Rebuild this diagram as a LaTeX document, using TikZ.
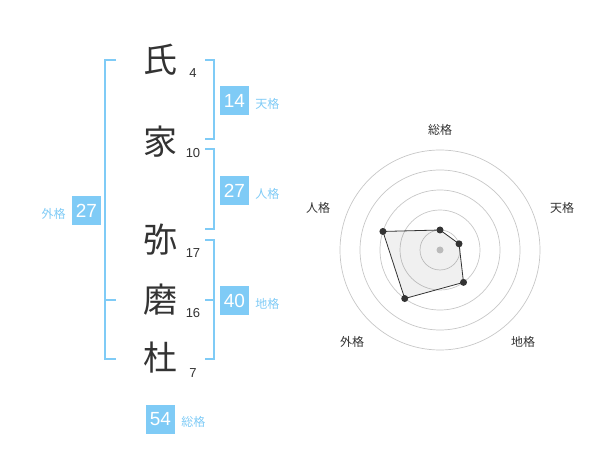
\documentclass[tikz,border=0pt]{standalone}
\usepackage{fontspec}
\setmainfont{Liberation Sans}
\newfontfamily\cjk{Noto Sans CJK JP}
\usepackage{tikz}
\usetikzlibrary{calc,positioning}
\definecolor{kakublue}{HTML}{7FCBF6}
\definecolor{inkgray}{HTML}{333333}

\begin{document}
\begin{tikzpicture}[x=1pt,y=-1pt,
  kanji/.style={font=\cjk\fontsize{34}{34}\selectfont,text=inkgray,inner sep=0pt},
  strokes/.style={font=\fontsize{13}{13}\selectfont,text=inkgray,inner sep=0pt},
  score/.style={fill=kakublue,text=white,font=\fontsize{19}{19}\selectfont,minimum size=29pt,inner sep=0pt},
  kaku/.style={font=\cjk\fontsize{12}{12}\selectfont,text=kakublue,inner sep=0pt},
  bracket/.style={draw=kakublue,line width=1.8pt},
  axis/.style={font=\cjk\fontsize{12}{12}\selectfont,text=inkgray,inner sep=0pt},
  ring/.style={draw=black!22,line width=0.7pt},
  dot/.style={circle,fill=inkgray,inner sep=0pt,minimum size=7pt}]
\useasboundingbox (0,0) rectangle (600,470);
% name characters and stroke counts
\node[kanji] (uji) at (160,60) {氏};
\node[kanji] (ie) at (160,142) {家};
\node[kanji] (ya) at (160,240) {弥};
\node[kanji] (ma) at (160,300) {磨};
\node[kanji] (mori) at (160,358) {杜};
\node[strokes] (s1) at (193,73) {4};
\node[strokes] (s2) at (193,153) {10};
\node[strokes] (s3) at (193,253) {17};
\node[strokes] (s4) at (193,313) {16};
\node[strokes] (s5) at (193,373) {7};
% brackets
\draw[bracket] (116,60) -- (105,60) -- (105,359) -- (116,359) (105,300) -- (116,300);
\draw[bracket] (205,60) -- (214,60) -- (214,139) -- (205,139);
\draw[bracket] (205,149) -- (214,149) -- (214,229) -- (205,229);
\draw[bracket] (205,240) -- (214,240) -- (214,359) -- (205,359) (205,300) -- (214,300);
% scores
\node[score] (ten) at (234.5,100.5) {14};
\node[kaku, right=6pt of ten, yshift=-3pt] (tenl) {天格};
\node[score] (jin) at (234.5,190.5) {27};
\node[kaku, right=6pt of jin, yshift=-3pt] (jinl) {人格};
\node[score] (chi) at (234.5,300.5) {40};
\node[kaku, right=6pt of chi, yshift=-3pt] (chil) {地格};
\node[score] (gai) at (86.5,210.5) {27};
\node[kaku, left=6pt of gai, yshift=-3pt] (gail) {外格};
\node[score] (sou) at (160.5,419) {54};
\node[kaku, right=6pt of sou, yshift=-3pt] (soul) {総格};
% radar
\coordinate (c) at (440,250);
\foreach \r in {20,40,60,80,100}
  \draw[ring] (c) circle[radius=\r pt];
\fill[black!22] (c) circle[radius=3.5pt];
\node[axis] (aSou) at (440,130) {総格};
\node[axis] (aTen) at (562,208) {天格};
\node[axis] (aJin) at (318,208) {人格};
\node[axis] (aGai) at (352,342) {外格};
\node[axis] (aChi) at (523,342) {地格};
\coordinate (p1) at ($(c)+(90:20pt)$);
\coordinate (p2) at ($(c)+(18:20pt)$);
\coordinate (p3) at ($(c)+(-54:40pt)$);
\coordinate (p4) at ($(c)+(-126:60pt)$);
\coordinate (p5) at ($(c)+(162:60pt)$);
\draw[inkgray,line width=0.8pt,fill=black,fill opacity=0.06] (p1) -- (p2) -- (p3) -- (p4) -- (p5) -- cycle;
\foreach \p in {p1,p2,p3,p4,p5}
  \node[dot] at (\p) {};
\end{tikzpicture}
\end{document}
